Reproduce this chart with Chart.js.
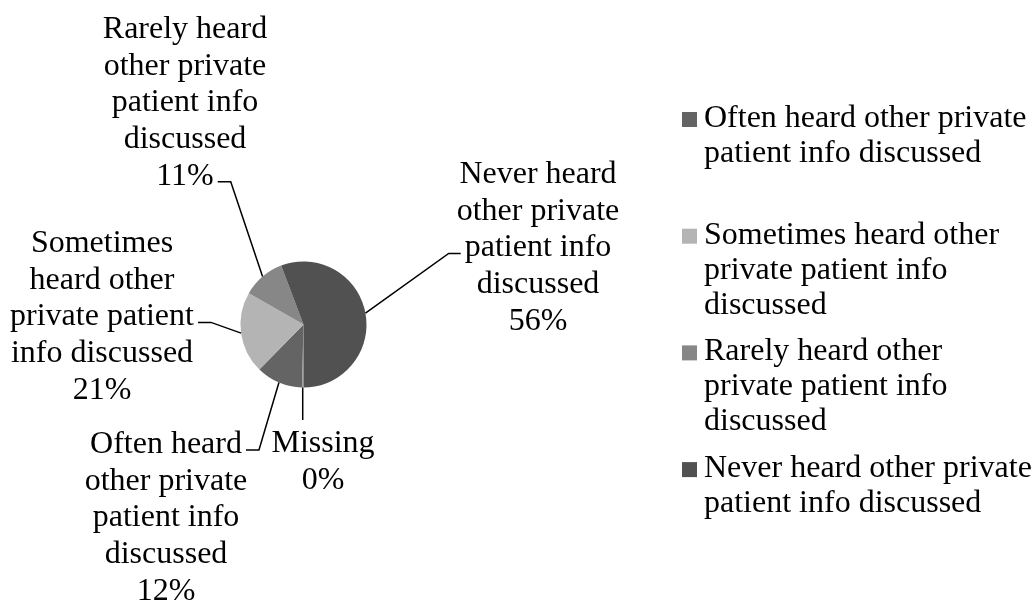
<!DOCTYPE html>
<html>
<head>
<meta charset="utf-8">
<script src="https://cdn.jsdelivr.net/npm/chart.js@4.4.1/dist/chart.umd.min.js"></script>
<style>
html, body { margin: 0; padding: 0; background: #fff; }
#wrap { width: 1034px; height: 604px; position: relative; }
</style>
</head>
<body>
<div id="wrap"><canvas id="myChart" width="1034" height="604"></canvas></div>
<script>
var categories = [
  'Missing',
  'Often heard other private patient info discussed',
  'Sometimes heard other private patient info discussed',
  'Rarely heard other private patient info discussed',
  'Never heard other private patient info discussed'
];
var values = [0.4, 12, 21, 11, 56];
var colors = ['#a3a3a3', '#646464', '#b4b4b4', '#878787', '#515151'];
var legendItems = [1, 2, 3, 4];   // Missing has no legend entry

// where each data label sits, relative to the pie centre
// dx = text centre, dy = first baseline, line = line the leader joins
var labelLayout = [
  {dx: 19.5,   dy: 127.5,  line: 0, side: 'top'},
  {dx: -137.5, dy: 128.5,  line: 0, side: 'right'},
  {dx: -201.5, dy: -72.5,  line: 2, side: 'right'},
  {dx: -118.5, dy: -286.5, line: 4, side: 'right'},
  {dx: 234.5,  dy: -141.5, line: 2, side: 'left'}
];

var serif = '"Liberation Serif", "Times New Roman", serif';

function wrap(ctx, text, maxW) {
  var words = text.split(' '), lines = [], cur = '';
  words.forEach(function(w) {
    var t = cur ? cur + ' ' + w : w;
    if (cur && ctx.measureText(t).width > maxW) { lines.push(cur); cur = w; }
    else cur = t;
  });
  if (cur) lines.push(cur);
  return lines;
}

var labelPlugin = {
  id: 'pieLabels',
  afterDatasetsDraw: function(chart) {
    var ctx = chart.ctx;
    var meta = chart.getDatasetMeta(0);
    var total = values.reduce(function(a, b) { return a + b; }, 0);
    var lh = 36.7;
    ctx.save();
    ctx.font = '32px ' + serif;
    ctx.fillStyle = '#000';
    ctx.strokeStyle = '#000';
    ctx.lineWidth = 1.5;
    ctx.textBaseline = 'alphabetic';
    meta.data.forEach(function(arc, i) {
      var p = arc.getProps(['x', 'y', 'startAngle', 'endAngle', 'outerRadius'], true);
      var mid = (p.startAngle + p.endAngle) / 2;
      var ax = p.x + Math.cos(mid) * p.outerRadius;
      var ay = p.y + Math.sin(mid) * p.outerRadius;
      var lines = wrap(ctx, categories[i], 200);
      lines.push(Math.round(values[i] / total * 100) + '%');
      var L = labelLayout[i];
      var cx = p.x + L.dx, by = p.y + L.dy;
      ctx.textAlign = 'center';
      lines.forEach(function(t, k) { ctx.fillText(t, cx, by + k * lh); });

      // leader line
      var ly = by + L.line * lh;
      var w = ctx.measureText(lines[L.line]).width;
      var ex, ey, kx;
      if (L.side === 'right') { ex = cx + w / 2 + 4; ey = ly - 3; kx = ex + 13; }
      else if (L.side === 'left') { ex = cx - w / 2 - 4; ey = ly - 3; kx = ex - 12; }
      else { ex = ax; ey = by - 32; kx = ex; }
      ctx.beginPath();
      ctx.moveTo(ex, ey);
      ctx.lineTo(kx, ey);
      ctx.lineTo(ax, ay);
      ctx.stroke();
    });
    ctx.restore();
  }
};

var legendPlugin = {
  id: 'sideLegend',
  afterDraw: function(chart) {
    var ctx = chart.ctx;
    var boxX = 682, textX = 704, top = 127, step = 116.7, lh = 35;
    ctx.save();
    ctx.font = '32px ' + serif;
    ctx.textAlign = 'left';
    ctx.textBaseline = 'alphabetic';
    legendItems.forEach(function(idx, n) {
      var by = top + n * step;
      ctx.fillStyle = colors[idx];
      ctx.fillRect(boxX, by - 15, 15, 15);
      ctx.fillStyle = '#000';
      wrap(ctx, categories[idx], 330).forEach(function(t, k) {
        ctx.fillText(t, textX, by + k * lh);
      });
    });
    ctx.restore();
  }
};

var ctx = document.getElementById('myChart').getContext('2d');
var chart = new Chart(ctx, {
  type: 'pie',
  data: {
    labels: categories,
    datasets: [{
      data: values,
      backgroundColor: colors,
      borderWidth: 0
    }]
  },
  options: {
    responsive: false,
    animation: false,
    rotation: 180,
    layout: { padding: { left: 240.5, right: 667.5, top: 261.5, bottom: 216.5 } },
    plugins: {
      legend: { display: false },
      tooltip: { enabled: false }
    }
  },
  plugins: [labelPlugin, legendPlugin]
});
</script>
</body>
</html>
